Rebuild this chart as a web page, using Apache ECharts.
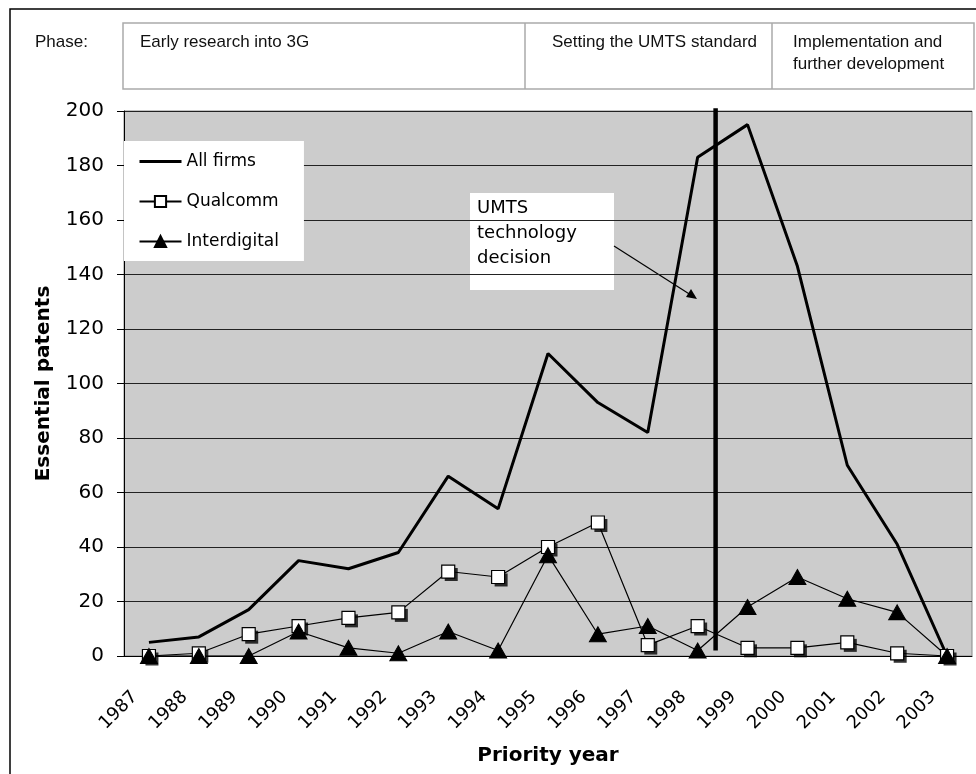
<!DOCTYPE html>
<html>
<head>
    <meta charset="utf-8">
    <title>Essential patents by priority year</title>
    <script src="https://cdn.jsdelivr.net/npm/echarts@6/dist/echarts.min.js"></script>
    <style>
        html, body { margin: 0; padding: 0; background: #fff; }
    </style>
</head>
<body>
    <div id="main" style="width: 976px;height:774px;"></div>
    <script type="text/javascript">

        // 数据
        var years = ['1987', '1988', '1989', '1990', '1991', '1992', '1993', '1994', '1995',
            '1996', '1997', '1998', '1999', '2000', '2001', '2002', '2003'];
        var allFirms = [5, 7, 17, 35, 32, 38, 66, 54, 111, 93, 82, 183, 195, 143, 70, 41, 0];
        var qualcomm = [0, 1, 8, 11, 14, 16, 31, 29, 40, 49, 4, 11, 3, 3, 5, 1, 0];
        var interdigital = [0, 0, 0, 9, 3, 1, 9, 2, 37, 8, 11, 2, 18, 29, 21, 16, 0];
        // UMTS decision line: position on the category scale, from/to values
        var decisionX = 11.36;
        var decisionY = [2, 201];

        var phases = ['Early research into 3G', 'Setting the UMTS standard', 'Implementation and\nfurther development'];

        var myChart = echarts.init(document.getElementById('main'));
        var axisFont = 'DejaVu Sans';
        var tableFont = '17px "Liberation Sans"';

        option = {
            animation: false,
            backgroundColor: '#fff',
            grid: { left: 124, right: 4, top: 111, bottom: 118, backgroundColor: '#cccccc', show: true, borderColor: '#888', borderWidth: 1 },
            legend: {
                orient: 'vertical',
                left: 124, top: 141,
                padding: [12, 25, 11, 14],
                itemGap: 23,
                itemWidth: 42, itemHeight: 14,
                backgroundColor: '#fff',
                textStyle: { fontFamily: axisFont, fontSize: 17, color: '#000' },
                data: [
                    { name: 'All firms', itemStyle: { opacity: 0 }, lineStyle: { width: 3 } },
                    'Qualcomm',
                    'Interdigital'
                ]
            },
            xAxis: [{
                type: 'category',
                data: years,
                name: 'Priority year',
                nameLocation: 'middle',
                nameGap: 90,
                nameTextStyle: { fontFamily: axisFont, fontSize: 20, fontWeight: 'bold', color: '#000' },
                axisLine: { lineStyle: { color: '#000', width: 1 } },
                axisTick: { length: 6, lineStyle: { color: '#000' } },
                axisLabel: {
                    rotate: 45, margin: 24, fontFamily: axisFont, fontSize: 18, color: '#000',
                    padding: [0, 20, 0, 0]
                }
            }, {
                type: 'value', min: -0.5, max: 16.5, show: false
            }],
            yAxis: {
                type: 'value',
                min: 0, max: 200, interval: 20,
                name: 'Essential patents',
                nameLocation: 'middle',
                nameGap: 70,
                nameTextStyle: { fontFamily: axisFont, fontSize: 20, fontWeight: 'bold', color: '#000' },
                axisLine: { show: true, onZero: false, lineStyle: { color: '#000', width: 1 } },
                axisTick: { show: true, length: 7, lineStyle: { color: '#000' } },
                axisLabel: { margin: 20, fontFamily: axisFont, fontSize: 20, color: '#000' },
                splitLine: { lineStyle: { color: '#222', width: 1 } }
            },
            series: [
                {
                    name: 'All firms', type: 'line', data: allFirms,
                    symbol: 'none', lineStyle: { color: '#000', width: 3 },
                    itemStyle: { color: '#000' }
                },
                {
                    // 方块阴影
                    name: 'qshadow', type: 'scatter', data: qualcomm,
                    symbol: 'rect', symbolSize: 13, symbolOffset: [3, 3],
                    itemStyle: { color: '#000' }, silent: true
                },
                {
                    name: 'Qualcomm', type: 'line', data: qualcomm,
                    symbol: 'rect', symbolSize: 13,
                    lineStyle: { color: '#000', width: 1.2 },
                    itemStyle: { color: '#fff', borderColor: '#000', borderWidth: 1.2 }
                },
                {
                    name: 'Interdigital', type: 'line', data: interdigital,
                    symbol: 'triangle', symbolSize: [17, 15],
                    lineStyle: { color: '#000', width: 1.2 },
                    itemStyle: { color: '#000', borderColor: '#000', borderWidth: 1 }
                },
                {
                    name: 'decision', type: 'line', xAxisIndex: 1, clip: false,
                    data: [[decisionX, decisionY[0]], [decisionX, decisionY[1]]],
                    symbol: 'none', lineStyle: { color: '#000', width: 4.5 }, silent: true
                }
            ],
            graphic: [
                // 外框
                { type: 'rect', shape: { x: 10, y: 9, width: 980, height: 800 }, style: { fill: 'none', stroke: '#000', lineWidth: 1.5 }, silent: true },
                // 阶段表
                { type: 'rect', shape: { x: 123, y: 23, width: 851, height: 66 }, style: { fill: '#fff', stroke: '#aaa', lineWidth: 1.5 } },
                { type: 'line', shape: { x1: 525, y1: 23, x2: 525, y2: 89 }, style: { stroke: '#aaa', lineWidth: 1.5 } },
                { type: 'line', shape: { x1: 772, y1: 23, x2: 772, y2: 89 }, style: { stroke: '#aaa', lineWidth: 1.5 } },
                { type: 'text', x: 35, y: 42, style: { text: 'Phase:', font: tableFont, fill: '#111', verticalAlign: 'middle' } },
                { type: 'text', x: 140, y: 42, style: { text: phases[0], font: tableFont, fill: '#111', verticalAlign: 'middle' } },
                { type: 'text', x: 552, y: 42, style: { text: phases[1], font: tableFont, fill: '#111', verticalAlign: 'middle' } },
                { type: 'text', x: 793, y: 31, style: { text: phases[2], font: tableFont, fill: '#111', lineHeight: 22 } },
                // 注释
                { type: 'rect', shape: { x: 470, y: 193, width: 144, height: 97 }, style: { fill: '#fff' } },
                { type: 'text', x: 477, y: 196, style: { text: 'UMTS\ntechnology\ndecision', font: '18px "DejaVu Sans"', fill: '#000', lineHeight: 25 } },
                { type: 'line', shape: { x1: 614, y1: 246, x2: 694, y2: 297 }, style: { stroke: '#000', lineWidth: 1.2 } },
                { type: 'polygon', shape: { points: [[697, 299], [686, 297], [691, 289]] }, style: { fill: '#000' } }
            ]
        };

        myChart.setOption(option);
    </script>
</body>
</html>
